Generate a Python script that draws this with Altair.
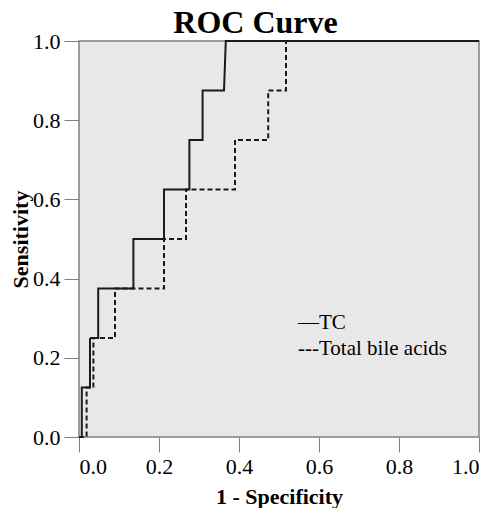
import altair as alt
import pandas as pd

# ROC coordinates (1 - specificity, sensitivity)
tc_fpr = [0.0, 0.007, 0.007, 0.0275, 0.0275, 0.048, 0.048, 0.136, 0.136, 0.2125, 0.2125,
          0.276, 0.276, 0.309, 0.309, 0.3625, 0.367, 1.0]
tc_tpr = [0.0, 0.0, 0.125, 0.125, 0.25, 0.25, 0.375, 0.375, 0.5, 0.5, 0.625,
          0.625, 0.75, 0.75, 0.875, 0.875, 1.0, 1.0]

tba_fpr = [0.0, 0.019, 0.019, 0.036, 0.036, 0.09, 0.09, 0.2125, 0.2125, 0.2675, 0.2675,
           0.39, 0.39, 0.473, 0.473, 0.5175, 0.5175, 1.0]
tba_tpr = [0.0, 0.0, 0.125, 0.125, 0.25, 0.25, 0.375, 0.375, 0.5, 0.5, 0.625,
           0.625, 0.75, 0.75, 0.875, 0.875, 1.0, 1.0]

series_names = ["TC", "Total bile acids"]
legend_labels = ["\u2014TC", "---Total bile acids"]
title_text = ["ROC Curve"]
tick_values = [0.0, 0.2, 0.4, 0.6, 0.8, 1.0]

rows = []
for name, xs, ys in [(series_names[0], tc_fpr, tc_tpr), (series_names[1], tba_fpr, tba_tpr)]:
    for i, (xv, yv) in enumerate(zip(xs, ys)):
        rows.append({"series": name, "fpr": xv, "tpr": yv, "idx": i})
df = pd.DataFrame(rows)

FONT = "Liberation Serif"
W, H = 400, 396

lines = alt.Chart(df).mark_line(color="#1a1a1a", strokeWidth=2, clip=False).encode(
    x=alt.X("fpr:Q", scale=alt.Scale(domain=[0, 1], nice=False),
            axis=alt.Axis(values=tick_values, format=".1f", title="1 - Specificity",
                          titleY=66, titleBaseline="alphabetic")),
    y=alt.Y("tpr:Q", scale=alt.Scale(domain=[0, 1], nice=False),
            axis=alt.Axis(values=tick_values, format=".1f", title="Sensitivity",
                          titleX=-52, titleBaseline="alphabetic")),
    strokeDash=alt.StrokeDash("series:N", scale=alt.Scale(domain=series_names, range=[[1, 0], [5, 3]]),
                              legend=None),
    detail="series:N",
    order="idx:Q",
)

leg1 = alt.Chart(pd.DataFrame({"label": [legend_labels[0]]})).mark_text(
    font=FONT, fontSize=21, align="left", baseline="middle", color="black"
).encode(text="label:N", x=alt.value(219), y=alt.value(282))

leg2 = alt.Chart(pd.DataFrame({"label": [legend_labels[1]]})).mark_text(
    font=FONT, fontSize=21, align="left", baseline="middle", color="black"
).encode(text="label:N", x=alt.value(219), y=alt.value(308))

title = alt.Chart(pd.DataFrame({"label": title_text})).mark_text(
    font=FONT, fontSize=32, fontWeight="bold", align="center", baseline="alphabetic", color="black"
).encode(text="label:N", x=alt.value(176.5), y=alt.value(-8))

chart = alt.layer(lines, leg1, leg2, title).properties(
    width=W,
    height=H,
    autosize=alt.AutoSizeParams(type="none"),
    padding={"left": 71, "top": 33, "right": 9, "bottom": 71},
).configure_view(
    fill="#E8E8E8", stroke="#808080", strokeWidth=1.5
).configure_axis(
    grid=False, domain=False, ticks=True, tickColor="#808080", tickSize=15, tickWidth=1,
    labelFont=FONT, labelFontSize=22, labelColor="black", labelPadding=4,
    titleFont=FONT, titleFontSize=22, titleFontWeight="bold", titleColor="black",
)

chart.save("out.html", embed_options={"renderer": "svg", "actions": False})
